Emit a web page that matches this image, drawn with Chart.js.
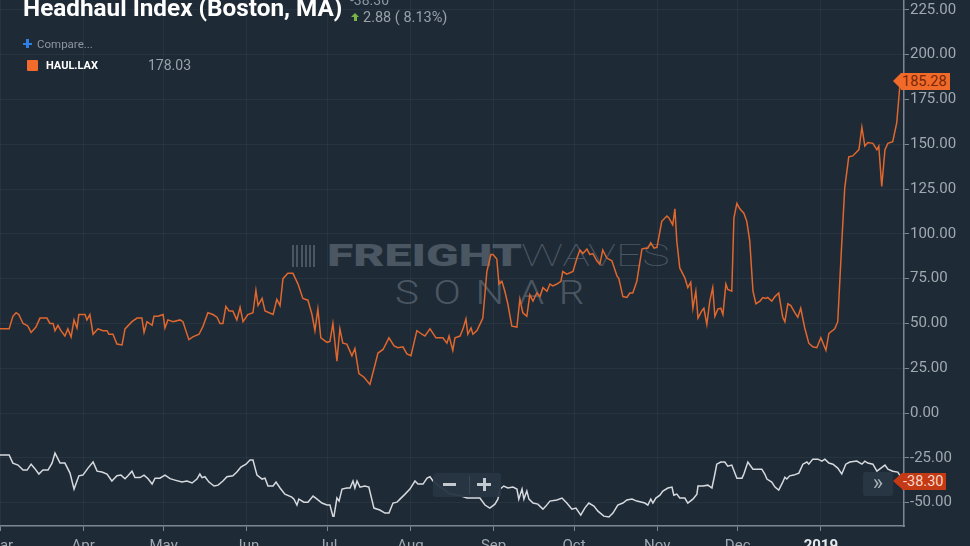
<!DOCTYPE html>
<html><head><meta charset="utf-8">
<script src="https://cdn.jsdelivr.net/npm/chart.js@4.4.1/dist/chart.umd.min.js"></script>
<style>
html,body{margin:0;padding:0;background:#1e2a36;overflow:hidden;}
#wrap{position:relative;width:970px;height:546px;font-family:Roboto,'Noto Sans',sans-serif;overflow:hidden;}
#c{position:absolute;left:0;top:0;z-index:1}
.wm{position:absolute;z-index:0;color:#4a5662;white-space:nowrap;line-height:1;transform-origin:0 0}
.ov{position:absolute;z-index:2;white-space:nowrap;line-height:1}
</style></head><body>
<div id="wrap">
  <!-- watermark -->
  <div class="wm" style="left:292px;top:245px;width:25px;height:22px;background:repeating-linear-gradient(90deg,#4a5662 0 2px,transparent 2px 4.3px)"></div>
  <div class="wm" style="left:327px;top:240px;font-size:31px;font-weight:900;transform:scaleX(1.55)">FREIGHT</div>
  <div class="wm" style="left:521px;top:240px;font-size:31px;font-weight:100;transform:scaleX(1.5)">WAVES</div>
  <div class="wm" style="left:395px;top:276px;font-size:33px;font-weight:300;letter-spacing:12px;transform:scaleX(1.22)">SONAR</div>

  <canvas id="c" width="970" height="546"></canvas>

  <!-- header -->
  <div class="ov" style="left:23px;top:-4.5px;font-size:24.3px;font-weight:700;color:#ffffff">Headhaul Index (Boston, MA)</div>
  <div class="ov" style="left:350px;top:-7px;font-size:14px;color:#8e979f">-38.30</div>
  <div class="ov" style="left:351px;top:13px;width:0;height:0;border-left:4px solid transparent;border-right:4px solid transparent;border-bottom:4px solid #79b546"></div>
  <div class="ov" style="left:353.5px;top:17px;width:3px;height:4px;background:#79b546"></div>
  <div class="ov" style="left:363px;top:11px;font-size:14.5px;color:#9aa2aa">2.88 ( 8.13%)</div>
  <!-- compare -->
  <div class="ov" style="left:23px;top:42.5px;width:9px;height:2.5px;background:#2f7fe6"></div>
  <div class="ov" style="left:26.3px;top:39px;width:2.5px;height:9px;background:#2f7fe6"></div>
  <div class="ov" style="left:37px;top:39.3px;font-size:11.5px;color:#8d959d">Compare...</div>
  <!-- legend -->
  <div class="ov" style="left:27px;top:60px;width:11px;height:11px;background:#f26b2b;border-radius:1px"></div>
  <div class="ov" style="left:46px;top:59.7px;font-size:11px;font-weight:700;color:#ffffff">HAUL.LAX</div>
  <div class="ov" style="left:148px;top:58.2px;font-size:14px;color:#9aa2aa">178.03</div>

  <!-- zoom control -->
  <div class="ov" style="left:433px;top:473px;width:68px;height:24px;background:rgba(40,53,67,0.95);border-radius:3px"></div>
  <div class="ov" style="left:443px;top:482.5px;width:13px;height:3px;background:#c3c9cf"></div>
  <div class="ov" style="left:469px;top:476px;width:1px;height:18px;background:#3a4856"></div>
  <div class="ov" style="left:477px;top:482.5px;width:14px;height:3px;background:#c3c9cf"></div>
  <div class="ov" style="left:482.5px;top:477.5px;width:3px;height:13px;background:#c3c9cf"></div>

  <!-- scroll button -->
  <div class="ov" style="left:863px;top:472px;width:30px;height:24px;background:#283543;border-radius:2px;color:#a9b1b9;font-size:22px;text-align:center;line-height:22px">»</div>

  <!-- price tags -->
  <div id="tagOA" class="ov" style="left:893px;width:0;height:0;border-top:8.5px solid transparent;border-bottom:8.5px solid transparent;border-right:8px solid #f06a2a"></div>
  <div id="tagO" class="ov" style="left:901px;height:17px;line-height:17px;padding:0 3px 0 1px;background:#f06a2a;color:#7a2608;font-size:14.5px"></div>
  <div id="tagWA" class="ov" style="left:893px;width:0;height:0;border-top:8.5px solid transparent;border-bottom:8.5px solid transparent;border-right:9px solid #c33a14"></div>
  <div id="tagW" class="ov" style="left:902px;height:17px;line-height:17px;padding:0 3px 0 1px;background:#c33a14;color:#f7d6ca;font-size:14.5px"></div>
</div>
<script>
// Time axis: days since 2018-03-01
const startDate = '2018-03-01';
const monthLabels = ['Mar','Apr','May','Jun','Jul','Aug','Sep','Oct','Nov','Dec','2019'];
const monthStarts = ['2018-03-01','2018-04-01','2018-05-01','2018-06-01','2018-07-01','2018-08-01','2018-09-01','2018-10-01','2018-11-01','2018-12-01','2019-01-01'];
const xMaxDays = 337;

const yTickMin = -50, yTickMax = 225, yStep = 25;
const yMin = -63.0, yMax = 230.5;

// HAUL.LAX (orange)
const haulDays = [0,3.4,4.8,6,7,8.6,10,10.4,11.6,13.4,14.9,17.5,18.6,19.8,20.5,21.6,22.7,24.2,25.3,26.5,27.6,28.7,29.4,31.7,32.4,33.5,34.7,36.5,38.4,39.9,
40.6,42.1,43.6,45.5,46.6,49.2,51.1,52.9,53.7,54.8,56.7,57.4,58.9,60.8,61.5,62.6,64.5,67.1,68.2,70.4,71.9,74.2,75.7,77.5,79.4,80.9,82,83.1,84.2,85.4,
86.8,88.3,89.5,90.6,92.4,94.3,95.4,96.2,97.7,98.8,101.8,103.2,104.4,105.5,107.3,109.2,111.1,112.9,114.8,116.3,117.4,118.5,119.6,121.9,123,124.1,125.6,126.7,127.8,129.3,
131.2,132.3,133.8,135.7,137.9,139.8,140.9,142.8,145,146.9,148.3,150.2,151.7,153.2,155.4,157.3,158.4,160.3,162.5,165.1,166.6,167.4,168.8,169.6,171.5,172.6,173.7,174.4,175.6,176.3,
177.8,178.9,180,181.5,183,183.8,185.2,186,187.1,188.2,189.3,190.8,192.7,193.8,194.9,196.4,197.5,198.7,200.1,201.3,202.4,203.9,205,206.1,207.6,209.1,209.8,211.3,213.6,215.1,
216.2,217.3,218.8,219.9,221,222.5,223.6,224.7,226.2,228.1,230,230.7,232.2,233.7,234.8,235.9,237.4,239.3,240.4,241.5,242.6,243.8,244.9,246.7,248.6,249.3,250.8,251.6,252.3,253.4,
255.3,256.4,257.5,258.3,259.4,260.2,261.6,262.4,263.5,264.6,265.7,266.5,267.6,268.7,269.5,270.6,271.3,272.8,273.6,274.7,275.8,277.3,278.4,279.5,280.7,281.8,283.3,284.4,285.5,286.2,
287.7,288.9,290.3,291.8,292.6,293.7,294.8,296.3,297.4,298.5,300,301.5,303,304.5,306,307.9,309,311.2,312.3,313.8,314.9,316.4,317.9,320.2,321.3,322.4,323.5,325.4,326.9,327.6,
328.7,329.9,331,332.8,334.3,335.6];
const haulValues = [47,47,54,56,55,50,49,48.5,45,48,53,53,50,50,46,49,46,43,47,42.5,52,47.5,55,55,52,55,44,47,46,46,
44,44,38.5,38,47,51,53,53,45,51,49,54,54,55,47.5,52,51,52,51,41,42.5,44,48.5,56,55,53.5,50,50,59.5,57,
57,52,59,51,55,56,68.5,60,64,57,55,63.5,60,75,78,78,72,64,63,55,46,58,42,39.5,40,50,29,47,39,38.5,
32,36,22,20,16,27,33.5,35.5,42,37.5,36.5,37,33,32,46,44,43,47,42,42,39,43,35,42,43,47,52.5,44,47.5,44,
46,49.5,53,79,88.5,88.5,86,72,73.5,68,61,48.5,48,63.5,56,54,66,62.5,67,65,70,68,72,71,72,73.5,79,77.5,79,86.5,
91,89,91.5,88.5,89,85,83,91,86.5,85,76.5,75,65,64.5,67,67,73.5,91.5,92,92,95,92,92.5,107,110,109,105,114,96,81,
75.5,70,73,58.5,68,53,57,58.5,49.5,62.5,70,54,58,58.5,55,72,69,68,109,117,114,111.5,107,96,68,61,62.5,64.5,64,64.5,
62.5,65,67,53.5,51,61,60,56,53.5,58.5,47.5,39,37,36.5,42,35,44.5,47,51,95,125.5,143,143.5,147,159.5,149,151,150.5,147,149,
126.5,147,150.5,151.5,162,185.28];

// Headhaul Index (Boston, MA) (white)
const bosDays = [0,3.4,4.8,6.7,8.6,10.1,11.6,13,14.5,16,17.9,19.4,20.5,22.4,24.2,26.1,27.6,29.4,30.9,32.8,34.7,36.2,38,39.9,41.7,43.6,45.1,46.6,47.7,49.2,
50.3,52.2,53.7,55.2,56.7,57.8,59.6,61.5,63.4,65.2,67.8,69.7,71.6,73.4,74.5,75.3,76.4,77.9,79.8,81.3,83.1,84.6,86.8,88.3,89.8,91.7,93.2,94.3,95.8,97.7,
98.8,99.9,101.8,102.9,104.4,106.2,108.8,109.6,110.7,111.4,113.3,114.8,116.7,118.2,120,121.9,123,124.1,124.5,125.6,126.4,127.5,129.3,130.5,131.6,132.3,133.1,134.2,136,137.5,
139.4,141.6,143.5,145,146.5,148,149.1,151,152.8,154.7,155.8,157.7,159.2,160.3,161.4,164,167.7,171.5,174.1,178.9,180.8,182.6,184.5,185.6,186.4,187.8,189.3,191.2,192.7,193.4,
194.6,195.3,196.4,197.2,198.7,200.5,202.4,203.5,205,207.6,209.5,211.3,213.2,214.7,216.5,218,219.5,221.4,222.9,225.1,227,228.5,230.3,232.2,233.7,235.6,237.4,239.3,240.4,241.5,
242.6,243.4,244.5,246,247.1,249,250.5,251.2,252.3,253.4,255.3,256.4,258.3,259.8,260.2,262,263.9,265.4,266.5,267.2,268.7,270.2,271.3,272.8,274.7,276.6,277.3,278.8,280.7,282.2,
284,285.1,285.9,287.7,288.9,290.3,291.8,292.6,293.3,294.4,295.9,297.8,299.3,300.8,301.5,303,304.9,306.4,307.5,309,310.5,312.3,313.8,315.3,316.8,319.4,321.3,322.4,323.5,325.4,
326.9,328.4,329.9,331,332.8,334.7,336.2,337];
const bosValues = [-23.4,-23.4,-27.9,-29,-31.8,-31.8,-28.5,-31,-34,-31.8,-31.8,-27.9,-22.3,-27.9,-27.9,-33.5,-42.4,-35,-34.6,-30.7,-27.3,-32.4,-32.9,-34,-37.9,-35,-34.6,-36.6,-35,-32.4,
-36,-36,-34.6,-36.6,-39.6,-36.3,-36.3,-34.6,-36.6,-37.4,-38.5,-37.9,-39,-36.8,-34,-36,-35.5,-38.5,-40.7,-40.2,-37.9,-35.5,-35,-32.9,-30.1,-28.5,-26.2,-26.2,-34.6,-36.8,
-36.3,-40.7,-40.7,-38.5,-41.8,-45.2,-46.9,-48,-51.3,-48,-49.7,-49.7,-46.3,-48,-50.2,-51.3,-51.3,-57.5,-57.5,-47.4,-49.1,-42.4,-41.8,-41.8,-37.9,-41.8,-37.9,-41.3,-40.7,-41.3,
-53,-54.1,-55.8,-55.8,-50.2,-49.7,-48,-45.2,-42.4,-37.9,-39.6,-39.6,-36.3,-35.5,-37.9,-41,-45,-46,-47.4,-47.4,-51.3,-53,-50.8,-48,-42.4,-40.7,-41.8,-41.3,-42.4,-48,
-42.4,-48,-43.5,-48,-50.2,-50.8,-53.6,-51.9,-49.1,-48.5,-47.4,-50.2,-53.6,-53,-56.9,-53,-50.2,-51.9,-54.7,-57.5,-58,-55.8,-51.3,-50.2,-48.5,-48,-49.1,-49.7,-50.2,-51.3,
-48,-50.2,-47.4,-45.8,-43.5,-41.8,-41.3,-45.8,-45.2,-47.4,-47.4,-50.2,-48,-45.2,-40.7,-40.7,-40.2,-41.8,-34,-28.5,-27.3,-27.3,-29.6,-29,-36.3,-36.3,-34,-27.3,-31.3,-31.3,
-31.3,-34,-36.8,-38.5,-41.3,-43,-38.5,-35.8,-36.8,-35,-34.6,-33.5,-28.5,-27.3,-28.5,-25.7,-25.7,-26.8,-25.7,-27.9,-28.5,-30.7,-34,-28.5,-27.3,-26.8,-28.5,-26.8,-27.9,-28.5,
-32.4,-30.7,-29,-31.3,-32.4,-32.9,-36.6,-38.3];

// ---- build ----
const dayMs = 86400000;
const t0 = Date.parse(startDate + 'T00:00:00Z');
const monthTickDays = monthStarts.map(d => Math.round((Date.parse(d + 'T00:00:00Z') - t0) / dayMs));
const toPts = (xs, ys) => xs.map((x, i) => ({x: x, y: ys[i]}));

const axisGrey = '#a0a8b0';
const gridCol = 'rgba(255,255,255,0.045)';
const borderCol = '#7d8791';

const tagPlugin = {
  id: 'tags',
  afterRender(chart) {
    const ys = chart.scales.y;
    const place = (id, aid, v) => {
      const y = ys.getPixelForValue(v);
      const el = document.getElementById(id);
      el.textContent = v.toFixed(2);
      el.style.top = (y - 8.5) + 'px';
      document.getElementById(aid).style.top = (y - 8.5) + 'px';
    };
    place('tagO', 'tagOA', haulValues[haulValues.length - 1]);
    place('tagW', 'tagWA', bosValues[bosValues.length - 1]);
  }
};

new Chart(document.getElementById('c'), {
  type: 'line',
  data: {
    datasets: [
      {label: 'HAUL.LAX', data: toPts(haulDays, haulValues), borderColor: '#e0672d', borderWidth: 1.5, pointRadius: 0, tension: 0, fill: false},
      {label: 'Headhaul Index (Boston, MA)', data: toPts(bosDays, bosValues), borderColor: '#d6dadf', borderWidth: 1.5, pointRadius: 0, tension: 0, fill: false}
    ]
  },
  options: {
    responsive: false,
    animation: false,
    events: [],
    layout: {padding: 0},
    plugins: {legend: {display: false}, tooltip: {enabled: false}},
    scales: {
      x: {
        type: 'linear', position: 'bottom', min: 0, max: xMaxDays,
        afterBuildTicks: s => { s.ticks = monthTickDays.map(v => ({value: v})); },
        afterFit: s => { s.height = 20; s.paddingLeft = 0; s.paddingRight = 0; },
        grid: {color: gridCol, tickColor: borderCol, tickLength: 5, drawOnChartArea: true},
        border: {display: true, color: borderCol, width: 1.5},
        ticks: {
          autoSkip: false, maxRotation: 0, padding: 6,
          callback: v => monthLabels[monthTickDays.indexOf(v)],
          color: ctx => (ctx.tick && ctx.tick.label === '2019') ? '#e6e9ec' : axisGrey,
          font: ctx => (ctx.tick && ctx.tick.label === '2019') ? {family: 'Roboto', size: 15, weight: 'bold'} : {family: 'Roboto', size: 15}
        }
      },
      y: {
        type: 'linear', position: 'right', min: yMin, max: yMax,
        afterFit: s => { s.width = 66; s.paddingTop = 0; s.paddingBottom = 0; },
        grid: {color: gridCol, tickColor: borderCol, tickLength: 5},
        border: {display: true, color: borderCol, width: 1.5},
        ticks: {
          stepSize: yStep, includeBounds: false, padding: 1, autoSkip: false,
          color: axisGrey, font: {family: 'Roboto', size: 15},
          callback: v => (v >= yTickMin && v <= yTickMax) ? Number(v).toFixed(2) : ''
        }
      }
    }
  },
  plugins: [tagPlugin]
});
</script>
</body></html>
